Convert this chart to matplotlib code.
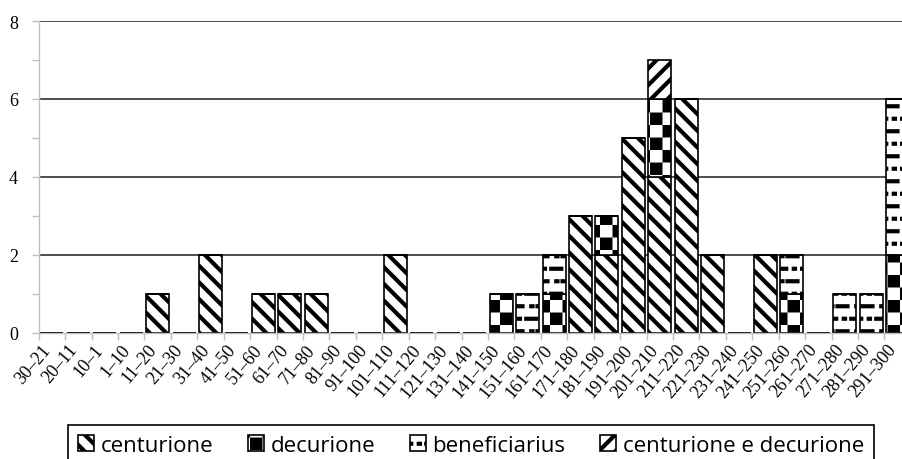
import numpy as np
import matplotlib
matplotlib.use('Agg')
import matplotlib.pyplot as plt
import matplotlib.hatch as mhatch
import matplotlib.transforms as mtransforms
from matplotlib.path import Path

categories = ['30–21', '20–11', '10–1', '1–10', '11–20', '21–30', '31–40', '41–50',
              '51–60', '61–70', '71–80', '81–90', '91–100', '101–110', '111–120',
              '121–130', '131–140', '141–150', '151–160', '161–170', '171–180',
              '181–190', '191–200', '201–210', '211–220', '221–230', '231–240',
              '241–250', '251–260', '261–270', '271–280', '281–290', '291–300']

centurione = [0, 0, 0, 0, 1, 0, 2, 0, 1, 1, 1, 0, 0, 2, 0, 0, 0,
              0, 0, 0, 3, 2, 5, 4, 6, 2, 0, 2, 0, 0, 0, 0, 0]
decurione = [0, 0, 0, 0, 0, 0, 0, 0, 0, 0, 0, 0, 0, 0, 0, 0, 0,
             1, 0, 1, 0, 1, 0, 2, 0, 0, 0, 0, 1, 0, 0, 0, 2]
beneficiarius = [0, 0, 0, 0, 0, 0, 0, 0, 0, 0, 0, 0, 0, 0, 0, 0, 0,
                 0, 1, 1, 0, 0, 0, 0, 0, 0, 0, 0, 1, 0, 1, 1, 4]
cent_dec = [0, 0, 0, 0, 0, 0, 0, 0, 0, 0, 0, 0, 0, 0, 0, 0, 0,
            0, 0, 0, 0, 0, 0, 1, 0, 0, 0, 0, 0, 0, 0, 0, 0]

series = [('centurione', centurione, '\\\\'),
          ('decurione', decurione, '+'),
          ('beneficiarius', beneficiarius, '-'),
          ('centurione e decurione', cent_dec, '//')]


# custom hatches: checkerboard for '+', short dashes for '-'
def checker_path(n=8, inset=0.021):
    verts, codes = [], []
    for i in range(n):
        for j in range(n):
            if (i + j) % 2 == 0:
                x0, y0 = i / n + inset, j / n + inset
                x1, y1 = (i + 1) / n - inset, (j + 1) / n - inset
                verts += [(x0, y0), (x1, y0), (x1, y1), (x0, y1), (x0, y0)]
                codes += [Path.MOVETO, Path.LINETO, Path.LINETO, Path.LINETO, Path.CLOSEPOLY]
    return Path(verts, codes)


def dash_path(rows=8, cols=4):
    verts, codes = [], []
    p = 1 / cols
    for r in range(rows):
        y = (r + 0.5) / rows
        for c in range(cols):
            x = c * p
            if r % 2 == 0:
                segs = [(x + 0.05 * p, x + 0.45 * p), (x + 0.75 * p, x + 0.8 * p)]
            else:
                segs = [(x + 0.25 * p, x + 0.3 * p), (x + 0.5 * p, x + 0.9 * p)]
            for a, b in segs:
                verts += [(a, y), (b, y)]
                codes += [Path.MOVETO, Path.LINETO]
    return Path(verts, codes)


_get_path = mhatch.get_path


def get_path(hatchpattern, density=6):
    if hatchpattern == '+':
        return checker_path()
    if hatchpattern == '-':
        return dash_path()
    return _get_path(hatchpattern, density)


mhatch.get_path = get_path

plt.rcParams['hatch.linewidth'] = 3.0
plt.rcParams['hatch.color'] = 'black'

fig = plt.figure(figsize=(9.02, 4.6), dpi=100)
ax = fig.add_axes([0.0429, 0.275, 0.967, 0.677])

x = np.arange(len(categories))
bottom = np.zeros(len(categories))
for name, vals, hatch in series:
    vals = np.array(vals, dtype=float)
    ax.bar(x, vals, 0.87, bottom=bottom, facecolor='white', edgecolor='black',
           linewidth=1.2, hatch=hatch, label=name)
    bottom += vals

ax.set_xlim(-0.5, len(categories) - 0.5)
ax.set_ylim(0, 8)
ax.set_axisbelow(True)

grey = '#bfbfbf'
for s in ['top', 'right']:
    ax.spines[s].set_visible(False)
for s in ['left', 'bottom']:
    ax.spines[s].set_color(grey)
    ax.spines[s].set_linewidth(1.0)

serif = 'Liberation Serif'
ax.set_xticks(x)
ax.set_xticklabels(categories, rotation=50, ha='right', va='center',
                   rotation_mode='anchor', fontsize=13, family=serif)
ax.set_xticks(np.arange(len(categories) + 1) - 0.5, minor=True)
ax.tick_params(axis='x', which='major', length=0, pad=10)
ax.tick_params(axis='x', which='minor', length=5, color=grey, width=1)

# nudge the rotated labels a little to the left
shift = mtransforms.ScaledTranslation(-3 / 72, 0, fig.dpi_scale_trans)
for lbl in ax.get_xticklabels():
    lbl.set_transform(lbl.get_transform() + shift)

ax.set_yticks([0, 2, 4, 6, 8])
ax.set_yticks([1, 3, 5, 7], minor=True)
ax.set_yticklabels(['0', '2', '4', '6', '8'], fontsize=13, family=serif)
ax.tick_params(axis='y', which='both', length=5, color=grey, width=1, pad=10)

ax.yaxis.grid(True, which='major', color='#404040', linewidth=1.3)
ax.yaxis.get_major_ticks()[0].gridline.set_visible(False)

leg = fig.legend(loc='upper center', bbox_to_anchor=(57 / 902, 0.0, 828 / 902, 0.098),
                 mode='expand', ncol=4, frameon=True, fancybox=False,
                 edgecolor='black', framealpha=1, borderpad=0.45,
                 handlelength=0.7, handleheight=0.7, handletextpad=0.3,
                 prop={'family': 'Open Sans', 'size': 16})
leg.get_frame().set_linewidth(1.2)

fig.savefig('out.png', dpi=100)
